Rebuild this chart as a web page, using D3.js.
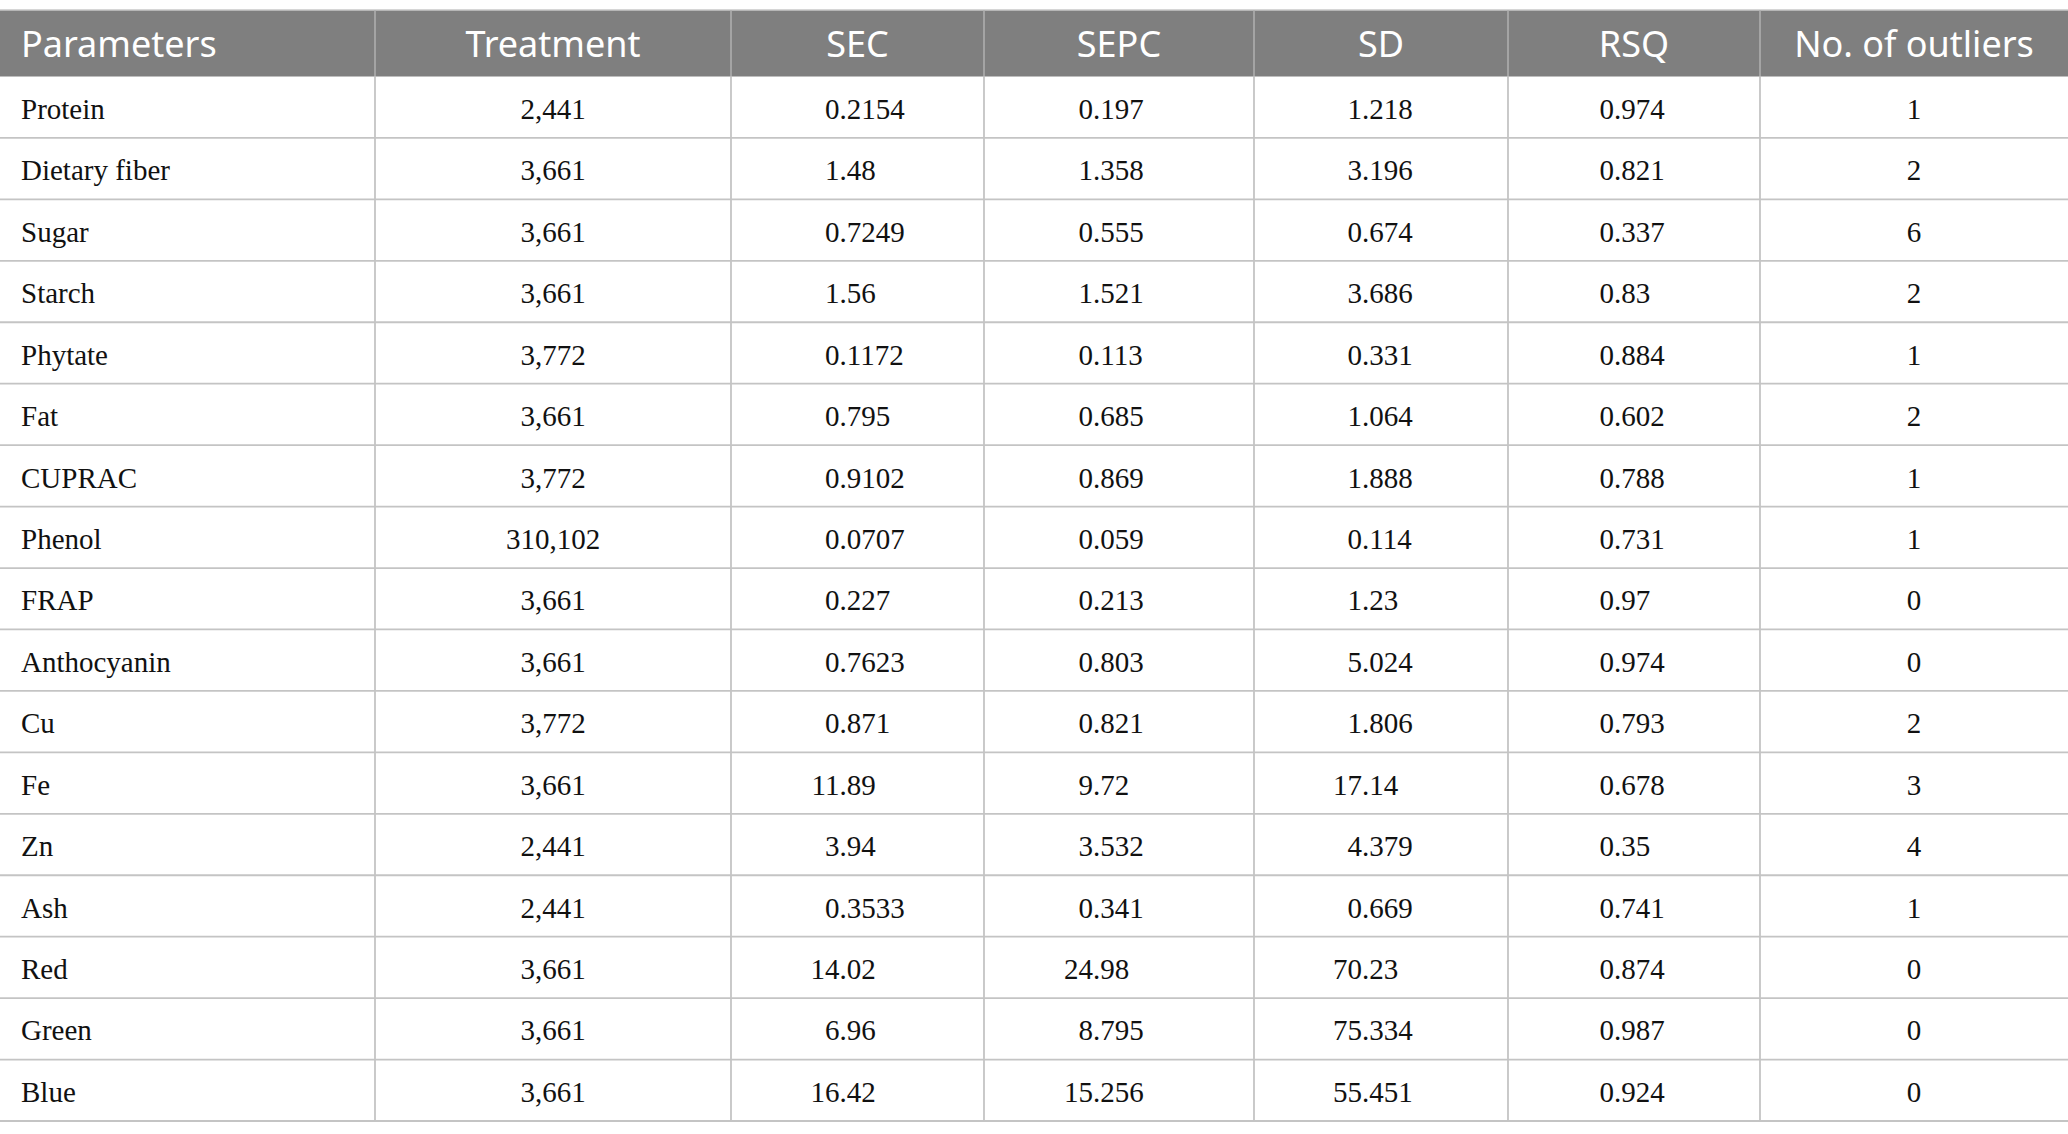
<!DOCTYPE html>
<html><head><meta charset="utf-8">
<script src="https://cdn.jsdelivr.net/npm/d3@7"></script>
<style>html,body{margin:0;padding:0;background:#fff;overflow:hidden}</style>
</head><body>
<svg id="chart" width="2068" height="1134"></svg>
<script>
const headers = ["Parameters","Treatment","SEC","SEPC","SD","RSQ","No. of outliers"];
const parameters = ["Protein","Dietary fiber","Sugar","Starch","Phytate","Fat","CUPRAC","Phenol","FRAP","Anthocyanin","Cu","Fe","Zn","Ash","Red","Green","Blue"];
const treatment = ["2,441","3,661","3,661","3,661","3,772","3,661","3,772","310,102","3,661","3,661","3,772","3,661","2,441","2,441","3,661","3,661","3,661"];
const sec = ["0.2154","1.48","0.7249","1.56","0.1172","0.795","0.9102","0.0707","0.227","0.7623","0.871","11.89","3.94","0.3533","14.02","6.96","16.42"];
const sepc = ["0.197","1.358","0.555","1.521","0.113","0.685","0.869","0.059","0.213","0.803","0.821","9.72","3.532","0.341","24.98","8.795","15.256"];
const sd = ["1.218","3.196","0.674","3.686","0.331","1.064","1.888","0.114","1.23","5.024","1.806","17.14","4.379","0.669","70.23","75.334","55.451"];
const rsq = ["0.974","0.821","0.337","0.83","0.884","0.602","0.788","0.731","0.97","0.974","0.793","0.678","0.35","0.741","0.874","0.987","0.924"];
const outliers = ["1","2","6","2","1","2","1","1","0","0","2","3","4","1","0","0","0"];

const W = 2068;
const colEdges = [0, 375, 731, 984, 1254, 1508, 1760, 2068];
const tableTop = 10, headerBottom = 76.5, tableBottom = 1121;
const svg = d3.select("#chart");

const colX = d3.scaleOrdinal().domain(headers).range(colEdges.slice(0,7));
const colW = d3.scaleOrdinal().domain(headers).range(colEdges.slice(1).map((e,i)=>e-colEdges[i]));
const y = d3.scaleBand().domain(parameters).range([headerBottom, tableBottom]).paddingInner(0).paddingOuter(0);

// header
svg.append("rect").attr("x",0).attr("y",tableTop).attr("width",W).attr("height",headerBottom-tableTop).attr("fill","#7f7f7f");
svg.append("line").attr("x1",0).attr("x2",W).attr("y1",tableTop).attr("y2",tableTop).attr("stroke","#c8c8c8").attr("stroke-width",1.5);
svg.selectAll("line.hdiv").data(colEdges.slice(1,7)).join("line").attr("class","hdiv")
  .attr("x1",d=>d).attr("x2",d=>d).attr("y1",tableTop).attr("y2",headerBottom)
  .attr("stroke","#b0b0b0").attr("stroke-width",1.5);
svg.selectAll("text.hdr").data(headers).join("text").attr("class","hdr")
  .attr("x",(d,i)=> i===0 ? colX(d)+21 : colX(d)+colW(d)/2)
  .attr("y",(tableTop+headerBottom)/2 + 1)
  .attr("dy","0.36em")
  .attr("text-anchor",(d,i)=> i===0 ? "start":"middle")
  .attr("font-family","'Noto Sans', 'Open Sans', sans-serif")
  .attr("font-size",36).attr("fill","#fff").text(d=>d);

// grid
svg.selectAll("line.row").data(parameters).join("line").attr("class","row")
  .attr("x1",0).attr("x2",W).attr("y1",d=>y(d)+y.bandwidth()).attr("y2",d=>y(d)+y.bandwidth())
  .attr("stroke","#c4c4c4").attr("stroke-width",1.8);
svg.selectAll("line.vdiv").data(colEdges.slice(1,7)).join("line").attr("class","vdiv")
  .attr("x1",d=>d).attr("x2",d=>d).attr("y1",headerBottom).attr("y2",tableBottom)
  .attr("stroke","#c4c4c4").attr("stroke-width",1.8);

const font = "'Liberation Serif', 'Times New Roman', serif";
const fs = 29;
function cellText(vals, anchorFn, xFn){
  return svg.append("g").selectAll("text").data(vals).join("text")
    .attr("x",(d,i)=>xFn(d,i)).attr("y",(d,i)=>y(parameters[i])+y.bandwidth()/2 + 1.5)
    .attr("dy","0.35em").attr("text-anchor",anchorFn)
    .attr("font-family",font).attr("font-size",fs).attr("fill","#111").text(d=>d);
}
// parameters
cellText(parameters, "start", ()=>21);
// treatment and outliers centered
cellText(treatment, "middle", ()=>colX("Treatment")+colW("Treatment")/2);
cellText(outliers, "middle", ()=>colX("No. of outliers")+colW("No. of outliers")/2);

// decimal-aligned columns
function decimalCol(name, vals, offset){
  const dx = colX(name)+colW(name)/2 - offset;
  const ints = vals.map(v=>v.split(".")[0]);
  const fracs = vals.map(v=>"."+(v.split(".")[1]||""));
  cellText(ints, "end", ()=>dx);
  cellText(fracs, "start", ()=>dx);
}
decimalCol("SEC", sec, 18);
decimalCol("SEPC", sepc, 26);
decimalCol("SD", sd, 19);
decimalCol("RSQ", rsq, 20);
</script>
</body></html>
